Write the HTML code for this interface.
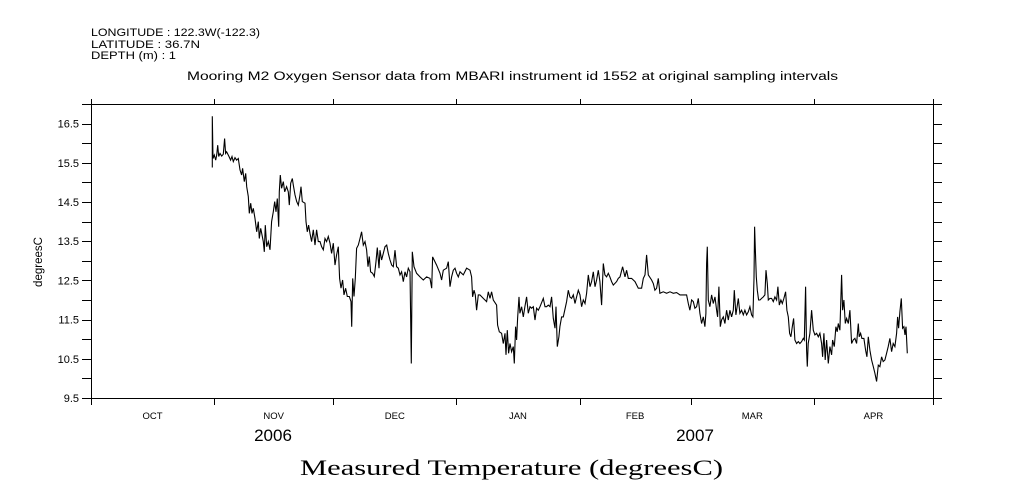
<!DOCTYPE html>
<html><head><meta charset="utf-8"><style>
body{margin:0;background:#fff;}
svg{display:block;font-family:"Liberation Sans",sans-serif;}
</style></head><body>
<svg id="chart" width="1009" height="504">
<g font-size="11" fill="#000">
<text x="91" y="36" textLength="169" lengthAdjust="spacingAndGlyphs">LONGITUDE : 122.3W(-122.3)</text>
<text x="91" y="48" textLength="109" lengthAdjust="spacingAndGlyphs">LATITUDE : 36.7N</text>
<text x="91" y="59" textLength="85" lengthAdjust="spacingAndGlyphs">DEPTH (m) : 1</text>
</g>
<text x="187" y="80" textLength="651" lengthAdjust="spacingAndGlyphs" font-size="11.5">Mooring M2 Oxygen Sensor data from MBARI instrument id 1552 at original sampling intervals</text>
<text transform="translate(42,262) rotate(-90)" text-anchor="middle" font-size="11.5">degreesC</text>
<text x="273" y="441" text-anchor="middle" font-size="17">2006</text>
<text x="695" y="441" text-anchor="middle" font-size="17">2007</text>
<text x="300" y="475" textLength="423" lengthAdjust="spacingAndGlyphs" font-size="22" font-family="'Liberation Serif',serif">Measured Temperature (degreesC)</text>
<g id="axes"></g>
<g id="series"></g>
</svg>
<script>
const monthLabels=["OCT","NOV","DEC","JAN","FEB","MAR","APR"];
const monthStartDays=[0,31,61,92,123,151,182,212];
const yTickValues=[9.5,10.5,11.5,12.5,13.5,14.5,15.5,16.5];
const days=[30.55,30.55,30.71,31.05,31.39,31.64,31.89,32.14,32.48,32.90,33.32,33.65,33.90,34.15,34.74,35.16,35.50,35.83,36.25,36.67,37.09,37.51,37.93,38.18,38.60,38.94,39.19,39.61,39.86,40.20,40.53,40.87,41.29,41.71,42.13,42.38,42.72,43.05,43.39,43.64,43.89,44.23,44.65,45.07,45.48,45.90,46.24,46.57,46.91,47.25,47.41,47.67,48.00,48.42,48.76,49.26,49.68,49.93,50.27,50.69,50.94,51.36,51.78,52.20,52.62,52.87,53.20,53.88,54.13,54.46,54.80,55.13,55.55,55.97,56.39,56.81,57.23,57.65,58.07,58.49,58.91,59.33,59.75,60.17,60.59,61.01,61.43,61.85,62.27,62.60,62.94,63.36,63.70,64.11,64.53,65.04,65.46,65.63,65.88,66.21,66.55,66.88,67.30,67.72,68.14,68.56,68.98,69.40,69.74,70.07,70.41,70.91,71.33,71.75,72.09,72.51,
72.76,73.18,73.60,74.02,74.44,74.86,75.28,75.70,76.11,76.53,76.95,77.37,77.79,78.21,78.63,79.05,79.47,79.89,80.31,80.65,80.90,81.32,81.99,82.83,83.67,84.51,85.35,85.77,86.02,86.60,87.02,87.86,88.28,88.70,89.54,89.96,90.38,90.80,91.22,91.64,92.06,92.48,92.90,93.74,94.58,95.42,95.84,96.09,96.42,96.76,97.09,97.51,97.93,98.77,99.61,100.03,100.45,100.87,101.29,102.13,102.38,102.80,103.39,103.81,104.23,104.48,104.82,105.15,105.49,105.91,106.33,106.58,106.91,107.16,107.42,107.75,108.00,108.42,108.84,109.26,109.68,110.10,110.52,110.94,111.36,111.78,112.20,112.62,113.04,113.88,114.30,114.72,115.14,115.56,115.98,116.40,116.82,117.07,117.40,117.82,118.07,118.49,118.91,119.75,120.17,120.59,121.01,121.43,121.85,122.27,122.69,123.11,123.53,123.95,124.37,124.79,125.21,125.63,126.05,126.47,126.89,127.31,127.73,128.14,128.56,128.98,129.40,129.82,130.24,130.66,131.08,131.50,132.34,132.76,133.18,133.85,134.44,134.86,135.28,136.12,136.96,137.80,138.64,139.06,139.48,139.90,140.31,141.15,141.57,141.99,142.41,142.83,143.25,144.09,144.93,
145.77,146.61,147.45,148.29,149.12,149.96,150.38,150.80,151.22,151.64,152.06,152.48,152.90,153.32,153.74,154.16,154.58,154.83,155.00,155.17,155.42,155.84,156.26,156.68,157.10,157.52,157.77,158.10,158.44,158.78,159.19,159.61,160.03,160.45,160.87,161.29,161.71,161.96,162.38,162.97,163.39,163.81,164.23,164.65,165.07,165.49,165.91,166.33,166.66,166.92,167.08,167.25,167.50,167.76,168.09,168.43,168.85,169.27,169.68,169.94,170.27,170.52,170.94,171.36,171.78,172.20,172.62,172.96,173.29,173.71,174.05,174.47,174.89,175.22,175.56,175.89,176.23,176.57,176.90,177.24,177.66,178.08,178.50,178.92,179.34,179.59,179.92,180.18,180.34,180.59,181.01,181.43,181.85,182.27,182.69,183.11,183.53,183.95,184.20,184.54,184.87,185.21,185.63,186.05,186.47,186.72,187.14,187.56,187.89,188.15,188.57,188.99,189.24,189.57,189.91,190.25,190.67,191.08,191.50,191.92,192.34,192.76,193.18,193.43,193.77,194.11,194.61,195.03,195.36,195.70,196.12,196.54,196.96,197.38,197.80,198.22,198.64,199.06,199.47,199.89,200.31,200.73,201.15,201.57,201.99,202.41,202.83,203.08,203.34,203.67,204.01,204.35,204.68,204.94,205.19,205.53];
const temps=[15.38,16.69,15.61,15.70,15.57,15.70,15.95,15.66,15.74,15.67,15.72,16.12,15.74,15.78,15.66,15.57,15.66,15.53,15.63,15.57,15.61,15.32,15.19,15.36,15.02,15.23,14.89,14.64,14.21,14.47,14.21,14.34,14.08,13.74,14.00,13.57,13.83,13.66,13.49,13.23,13.91,13.36,13.49,13.28,14.00,14.25,14.51,14.25,14.59,13.87,14.76,15.19,14.85,15.02,14.76,14.89,14.76,14.42,14.98,15.10,14.93,14.68,14.51,14.42,14.68,14.89,14.51,14.47,14.00,13.74,13.91,13.70,13.49,13.79,13.40,13.79,13.49,13.49,13.36,13.28,13.57,13.49,13.62,13.45,13.19,13.45,12.89,13.15,13.36,12.55,12.30,12.51,12.13,12.30,12.09,12.09,11.96,11.32,12.55,12.09,12.55,13.32,13.40,13.57,13.74,13.40,13.49,13.28,12.85,13.11,12.72,12.68,12.60,12.98,13.34,12.81,
13.27,13.02,13.19,13.36,13.40,13.19,13.02,12.89,12.85,13.27,12.85,12.81,12.64,12.72,12.47,12.72,12.59,12.81,12.72,10.38,13.23,12.85,12.68,12.59,12.51,12.59,12.55,12.30,13.10,12.98,12.89,12.68,12.51,12.76,12.81,12.98,12.34,12.59,12.76,12.81,12.68,12.59,12.72,12.64,12.81,12.76,12.59,12.08,12.25,12.13,11.74,12.13,12.13,12.04,11.96,12.21,12.04,12.21,12.00,11.87,11.36,11.19,11.15,10.89,11.15,10.60,11.23,10.64,10.89,10.68,10.81,10.38,11.32,10.98,11.53,12.08,11.66,11.83,11.57,11.83,12.08,11.66,11.83,11.79,11.83,11.49,11.79,11.74,11.83,12.04,11.83,11.83,11.87,11.83,12.08,11.53,11.28,11.83,10.81,11.06,11.32,11.57,11.57,11.96,12.25,12.08,12.04,12.13,11.91,12.08,12.25,12.13,11.83,12.00,11.91,12.17,12.64,12.34,12.47,12.72,12.34,12.51,12.76,12.47,11.87,12.93,12.64,12.59,12.68,12.59,12.47,12.38,12.47,12.55,12.59,12.85,12.59,12.76,12.55,12.55,12.47,12.30,12.30,12.55,12.64,13.15,12.64,12.51,12.42,12.25,12.30,12.55,12.17,12.21,12.17,
12.21,12.17,12.19,12.13,12.13,12.13,11.91,11.74,12.00,11.96,11.79,11.83,12.04,11.66,11.40,11.57,11.32,11.66,12.93,13.36,12.00,11.83,12.13,11.91,12.08,11.74,11.57,12.34,11.32,11.49,11.57,11.40,11.74,11.49,11.74,11.57,11.74,12.25,11.62,12.04,11.66,11.74,11.62,11.74,11.62,11.70,11.83,11.62,11.57,12.55,13.87,13.32,12.59,12.25,12.00,12.00,12.04,12.08,12.13,12.76,12.42,12.00,12.04,12.04,11.96,12.08,12.00,12.34,11.87,12.00,11.91,12.04,12.21,11.74,11.57,11.15,11.06,11.32,11.53,10.98,10.89,10.94,10.89,10.94,11.02,10.98,12.34,10.72,10.30,10.89,11.15,11.74,11.23,11.11,11.15,11.06,11.15,10.89,10.55,11.15,10.47,10.98,10.38,10.81,10.60,10.98,10.81,11.32,11.19,11.40,11.23,12.64,11.74,12.00,11.40,11.53,11.40,11.74,10.89,10.98,11.02,10.89,11.40,11.06,11.15,11.02,11.02,10.72,10.55,11.06,10.72,10.47,10.30,10.13,9.92,10.34,10.30,10.55,10.43,10.47,10.64,10.81,11.02,10.68,10.89,10.81,11.15,11.57,11.28,11.70,12.04,11.28,11.32,11.11,11.32,10.64];

const NS="http://www.w3.org/2000/svg";
const X0=91,X1=933,Y0=104,Y1=398,DMAX=212,VMIN=9.5,VMAX=17.0;
const xs=d=>X0+(d/DMAX)*(X1-X0);
const ys=v=>Y1-(v-VMIN)/(VMAX-VMIN)*(Y1-Y0);
function mk(tag,attrs,parent){const e=document.createElementNS(NS,tag);for(const k in attrs)e.setAttribute(k,attrs[k]);parent.appendChild(e);return e;}
const axes=document.getElementById('axes');
const frame=mk('rect',{x:X0+0.5,y:Y0+0.5,width:X1-X0,height:Y1-Y0,fill:'none',stroke:'#000','stroke-width':1},axes);


for(let v=VMIN;v<=VMAX+1e-6;v+=0.5){
  const y=Math.round(ys(v))+0.5;
  const t1=mk('line',{x1:X0-9,x2:X0,y1:y,y2:y,stroke:'#000'},axes);
  
  
  const t2=mk('line',{x1:X1,x2:X1+9,y1:y,y2:y,stroke:'#000'},axes);
  
  
}
yTickValues.forEach(v=>{
  const t=mk('text',{x:X0-12,y:ys(v)+4,'text-anchor':'end','font-size':11},axes);
  t.textContent=v.toFixed(1);
  
  
});
monthStartDays.forEach(d=>{
  const x=Math.round(xs(d))+0.5;
  const a=mk('line',{x1:x,x2:x,y1:Y1,y2:Y1+7,stroke:'#000'},axes);
  
  
  const b=mk('line',{x1:x,x2:x,y1:Y0-5,y2:Y0,stroke:'#000'},axes);
  
  
});
monthLabels.forEach((m,i)=>{
  const t=mk('text',{x:(xs(monthStartDays[i])+xs(monthStartDays[i+1]))/2,y:419,'text-anchor':'middle','font-size':9.5},axes);
  t.textContent=m;
  
  
});
const series=document.getElementById('series');
const pts=days.map((d,i)=>xs(d).toFixed(1)+','+ys(temps[i]).toFixed(1)).join(' ');
const pl=mk('polyline',{points:pts,fill:'none',stroke:'#000','stroke-width':1.1,'stroke-linejoin':'miter'},series);


</script>
</body></html>
